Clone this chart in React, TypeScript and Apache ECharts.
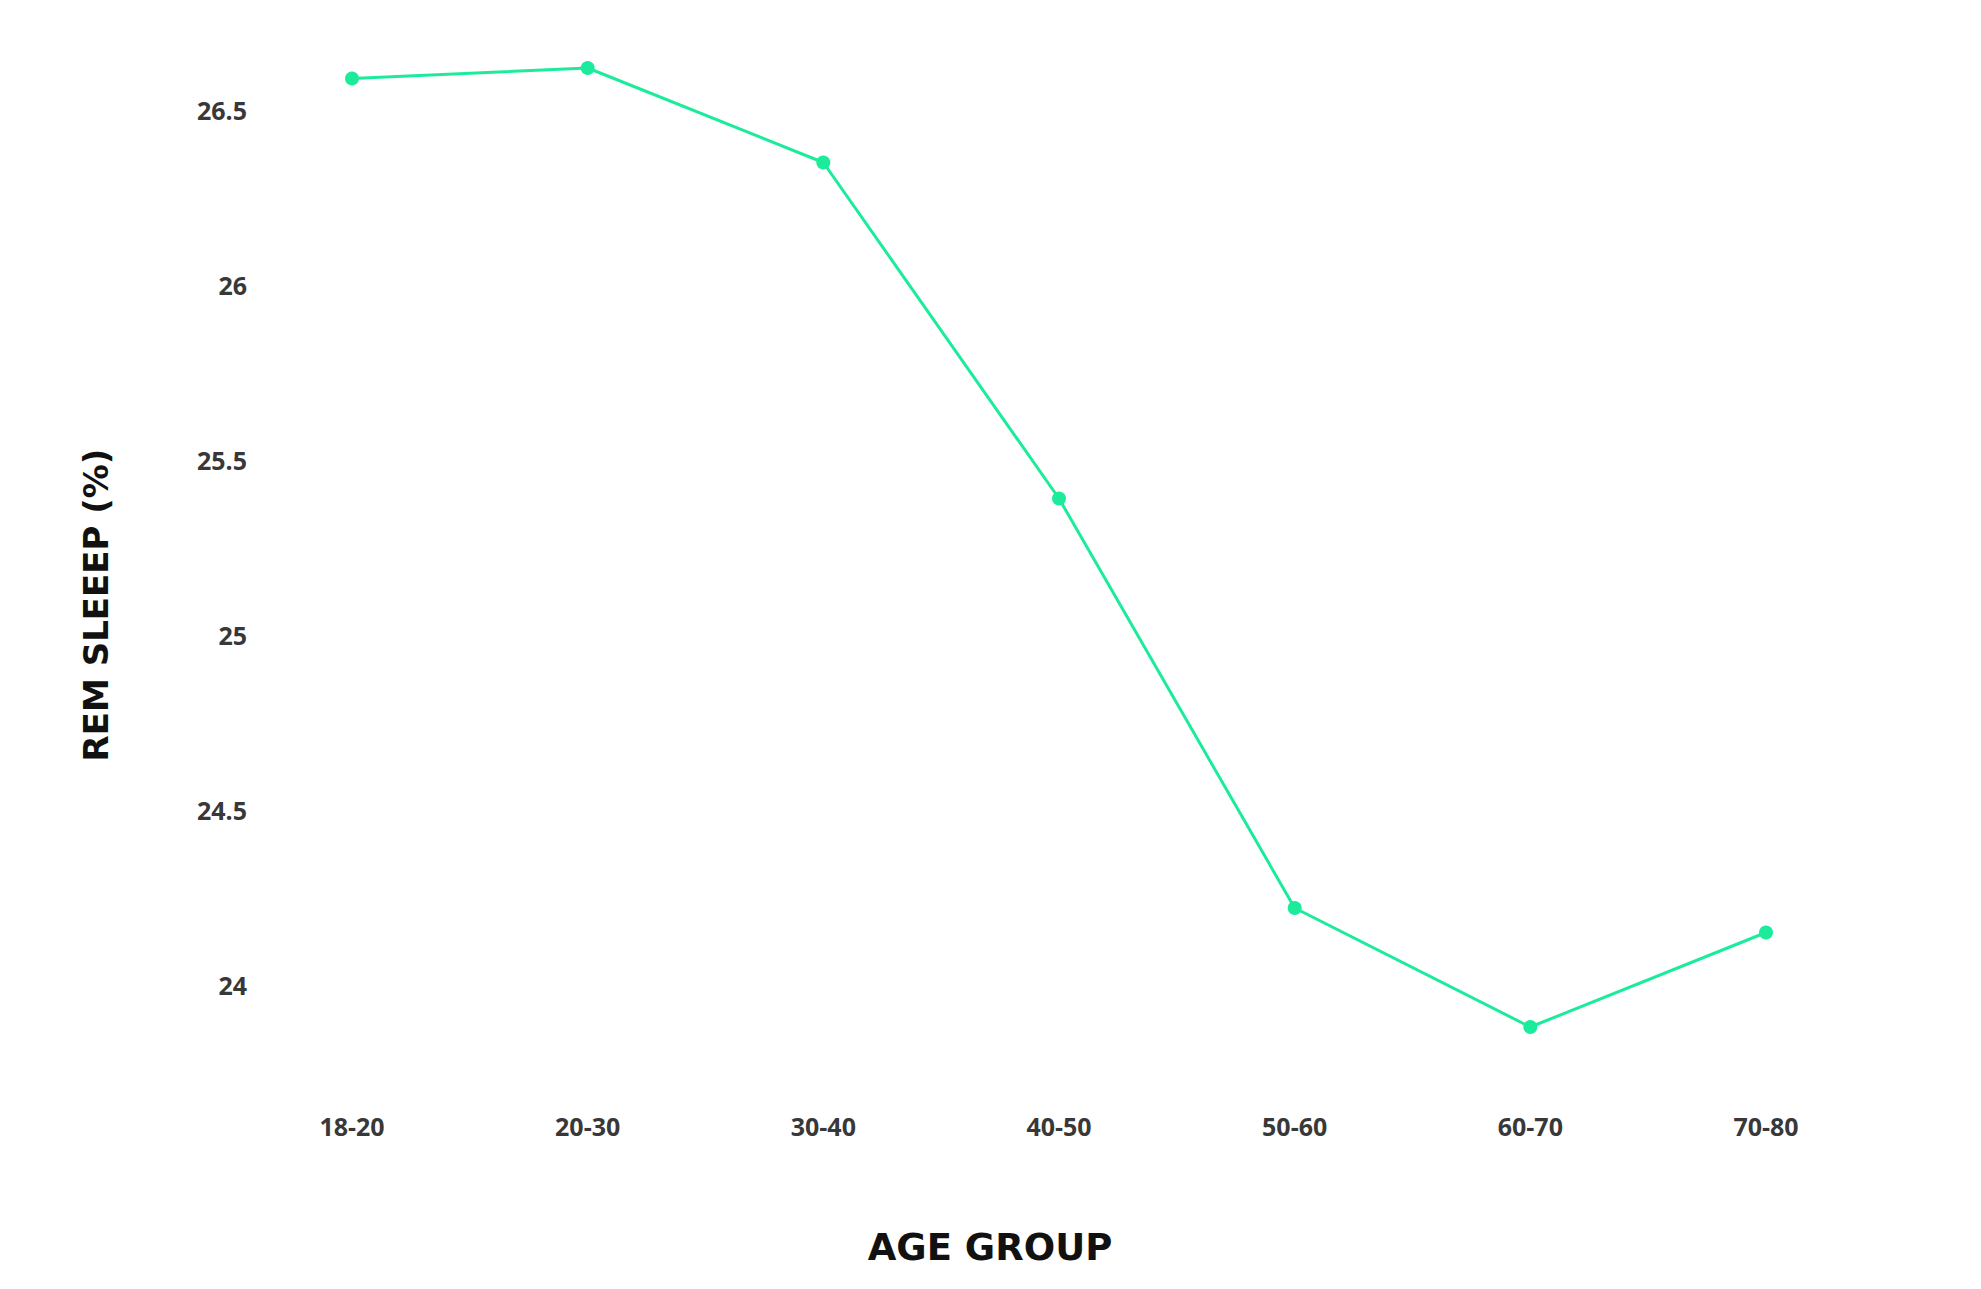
import { useRef, useEffect } from 'react'
import * as echarts from 'echarts'

const ageGroups = ['18-20', '20-30', '30-40', '40-50', '50-60', '60-70', '70-80']
const remSleep = [26.59, 26.62, 26.35, 25.39, 24.22, 23.88, 24.15]
const yMin = 23.75
const yMax = 26.75
const yStep = 0.25

const TICK_FONT = '"Open Sans", Lato, sans-serif'
const TITLE_FONT = '"DejaVu Sans", "Open Sans", sans-serif'
const GREEN = '#1deb9c'

export default function App() {
  const chartRef = useRef<HTMLDivElement>(null)

  useEffect(() => {
    document.body.style.margin = '0'
    if (!chartRef.current) return
    const chart = echarts.init(chartRef.current, undefined, { renderer: 'svg' })

    chart.setOption({
      animation: false,
      backgroundColor: '#ffffff',
      grid: { left: 352, right: 215, top: 22.5, bottom: 216.5, containLabel: false },
      xAxis: {
        type: 'category',
        data: ageGroups,
        boundaryGap: false,
        axisLine: { show: false },
        axisTick: { show: false },
        splitLine: { show: false },
        axisLabel: { color: '#383838', fontFamily: TICK_FONT, fontWeight: 'bold', fontSize: 25, margin: 41 },
      },
      yAxis: {
        type: 'value',
        min: yMin,
        max: yMax,
        interval: yStep,
        axisLine: { show: false },
        axisTick: { show: false },
        splitLine: { show: false },
        axisLabel: {
          color: '#383838', fontFamily: TICK_FONT, fontWeight: 'bold', fontSize: 25, margin: 105,
          // only the half-unit ticks carry a label
          formatter: (v: number) => (Math.abs(v * 2 - Math.round(v * 2)) < 1e-6 ? String(v) : ''),
        },
      },
      graphic: [
        {
          type: 'text', x: 990, y: 1247,
          style: { text: 'AGE GROUP', font: `bold 37px ${TITLE_FONT}`, fill: '#111', textAlign: 'center', textVerticalAlign: 'middle' },
        },
        {
          type: 'text', x: 96, y: 605, rotation: Math.PI / 2,
          style: { text: 'REM SLEEEP (%)', font: `bold 34px ${TITLE_FONT}`, fill: '#111', textAlign: 'center', textVerticalAlign: 'middle' },
        },
      ],
      series: [
        {
          type: 'line',
          data: remSleep,
          symbol: 'circle',
          symbolSize: 14,
          lineStyle: { width: 3, color: GREEN },
          itemStyle: { color: GREEN },
        },
      ],
    })

    return () => chart.dispose()
  }, [])

  return <div ref={chartRef} style={{ width: 1981, height: 1289 }} />
}
